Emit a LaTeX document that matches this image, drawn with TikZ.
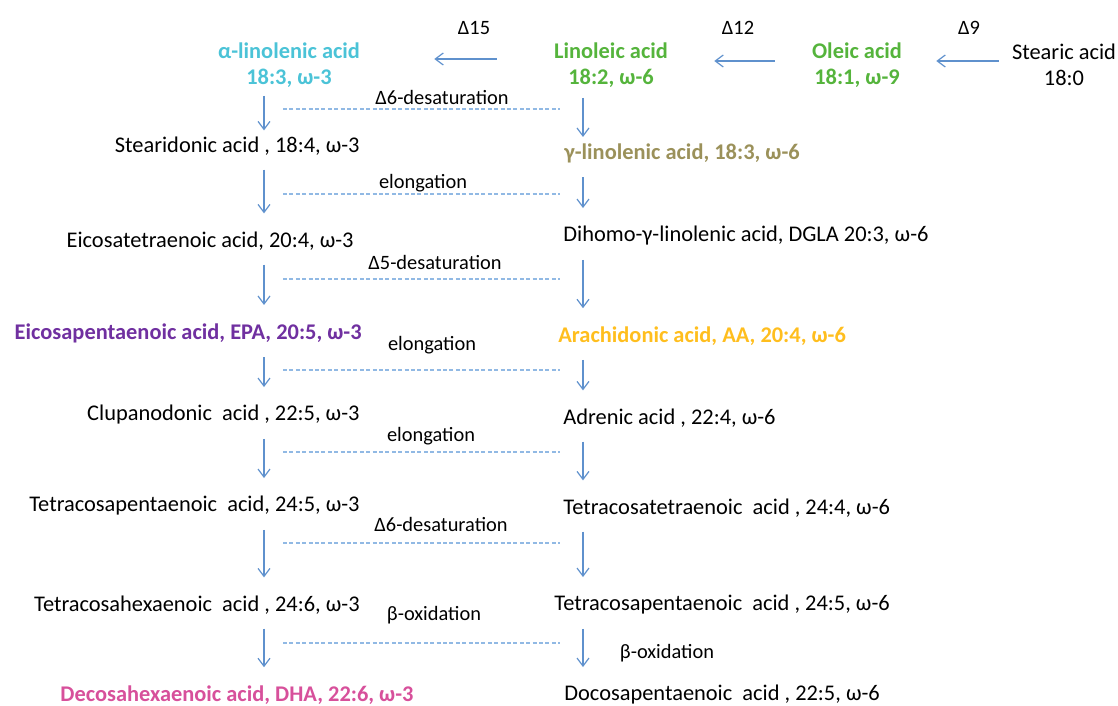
\documentclass[tikz,border=0pt]{standalone}
\usepackage{fontspec}
\setmainfont{Carlito}
\usetikzlibrary{positioning,calc,arrows.meta}

\definecolor{alacyan}{RGB}{75,195,215}
\definecolor{lagreen}{RGB}{85,180,60}
\definecolor{glaolive}{RGB}{155,145,90}
\definecolor{epapurple}{RGB}{112,48,160}
\definecolor{aaorange}{RGB}{255,190,30}
\definecolor{dhapink}{RGB}{215,80,155}
\definecolor{arrblue}{RGB}{95,145,205}
\definecolor{dashblue}{RGB}{145,185,228}

\begin{document}
\begin{tikzpicture}[
    x=0.5pt, y=-0.5pt,
    acid/.style={inner sep=1pt, font=\fontsize{11.2}{13}\selectfont},
    key/.style={acid, font=\fontsize{11.2}{13}\selectfont\bfseries, align=center},
    enzyme/.style={inner sep=1pt, font=\fontsize{10.2}{12}\selectfont},
    arr/.style={-{Straight Barb[length=4pt,width=6pt]}, draw=arrblue, line width=0.6pt},
    vert/.style={arr, shorten <=6pt, shorten >=8pt},
    dash line/.style={draw=dashblue, line width=0.8pt, dash pattern=on 2pt off 1.2pt}
]
    \useasboundingbox (0,0) rectangle (1118,706);
    \coordinate (colL) at (264,0);
    \coordinate (colR) at (583,0);

    % Desaturase steps on top
    \node[enzyme] (d15) at (474,28) {Δ15};
    \node[enzyme] (d12) at (738,28) {Δ12};
    \node[enzyme] (d9)  at (969,28) {Δ9};

    % Parent fatty acids
    \node[key, text=alacyan] (ala) at (289,65) {α-linolenic acid\\18:3, ω-3};
    \node[key, text=lagreen] (la) at (611,65) {Linoleic acid\\18:2, ω-6};
    \node[key, text=lagreen] (oa) at (857,65) {Oleic acid\\18:1, ω-9};
    \node[acid, align=center] (sa) at (1064,65) {Stearic acid\\18:0};

    \draw[arr, shorten <=5.5pt, shorten >=16pt] ([yshift=2pt]sa.west) -- ([yshift=2pt]oa.east);
    \draw[arr, shorten <=17.5pt, shorten >=22pt] ([yshift=2pt]oa.west) -- ([yshift=2pt]la.east);
    \draw[arr, shorten <=27.5pt, shorten >=36pt] ([yshift=3pt]la.west) -- ([yshift=3pt]ala.east);

    % omega-3 series
    \node[acid, anchor=east] (sda)  at (362,146) {Stearidonic acid , 18:4, ω-3};
    \node[acid, anchor=east] (eta)  at (356,241) {Eicosatetraenoic acid, 20:4, ω-3};
    \node[key, anchor=east, text=epapurple] (epa) at (364,333) {Eicosapentaenoic acid, EPA, 20:5, ω-3};
    \node[acid, anchor=east] (cpa)  at (362,415) {Clupanodonic\ \ acid , 22:5, ω-3};
    \node[acid, anchor=east] (tpa3) at (362,506) {Tetracosapentaenoic\ \ acid, 24:5, ω-3};
    \node[acid, anchor=east] (tha)  at (362,605) {Tetracosahexaenoic\ \ acid , 24:6, ω-3};
    \node[key, text=dhapink] (dha) at (237,695) {Decosahexaenoic acid, DHA, 22:6, ω-3};

    % omega-6 series
    \node[key, anchor=west, text=glaolive] (gla) at (562,153) {γ-linolenic acid, 18:3, ω-6};
    \node[acid, anchor=west] (dgla) at (561,236) {Dihomo-γ-linolenic acid, DGLA 20:3, ω-6};
    \node[key, anchor=west, text=aaorange] (aa) at (556,336) {Arachidonic acid, AA, 20:4, ω-6};
    \node[acid, anchor=west] (adr)  at (561,418) {Adrenic acid , 22:4, ω-6};
    \node[acid, anchor=west] (tta)  at (561,508) {Tetracosatetraenoic\ \ acid , 24:4, ω-6};
    \node[acid, anchor=west] (tpa6) at (552,605) {Tetracosapentaenoic\ \ acid , 24:5, ω-6};
    \node[acid, anchor=west] (dpa)  at (562,695) {Docosapentaenoic\ \ acid , 22:5, ω-6};

    % vertical arrows
    \draw[vert, shorten <=3pt, shorten >=2pt] (ala.south -| colL) -- (sda.north -| colL);
    \draw[vert, shorten <=4pt, shorten >=2pt] (la.south -| colR) -- (gla.north -| colR);
    \foreach \a/\b in {sda/eta, eta/epa, epa/cpa, cpa/tpa3, tpa3/tha, tha/dha}
        \draw[vert] (\a.south -| colL) -- (\b.north -| colL);
    \foreach \a/\b in {gla/dgla, dgla/aa, aa/adr, adr/tta, tta/tpa6, tpa6/dpa}
        \draw[vert] (\a.south -| colR) -- (\b.north -| colR);

    % shared enzyme steps
    \foreach \t/\lx/\ly/\dy [count=\i] in {Δ6-desaturation/442/97/109, elongation/423/183/194,
        Δ5-desaturation/435/262/279, elongation/432/345/370, elongation/431/436/452,
        Δ6-desaturation/441/524/543, β-oxidation/434/615/643}{
        \node[enzyme] (enz\i) at (\lx,\ly) {\t};
        \draw[dash line] (283,\dy) -- (560,\dy);
    }
    \node[enzyme] (boxR) at (667,653) {β-oxidation};
\end{tikzpicture}
\end{document}
